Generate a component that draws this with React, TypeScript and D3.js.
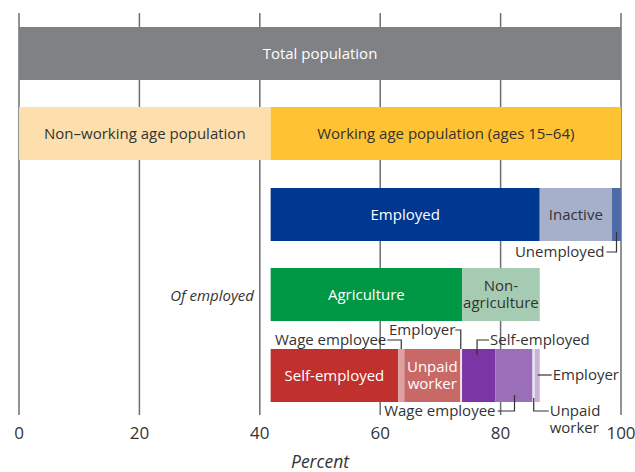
import React from "react";
import * as d3 from "d3";

type Seg = { key: string; label: string; value: number; color: string; text: string };

const totalRow: Seg[] = [
  { key: "total", label: "Total population", value: 100, color: "#808184", text: "#ffffff" },
];
const ageRow: Seg[] = [
  { key: "nonwork", label: "Non\u2013working age population", value: 41.8, color: "#fddfae", text: "#333333" },
  { key: "work", label: "Working age population (ages 15\u201364)", value: 58.2, color: "#fec232", text: "#333333" },
];
const statusRow: Seg[] = [
  { key: "employed", label: "Employed", value: 44.7, color: "#003790", text: "#ffffff" },
  { key: "inactive", label: "Inactive", value: 12.0, color: "#a7b0cb", text: "#333333" },
  { key: "unemployed", label: "", value: 1.5, color: "#4f6aa6", text: "#ffffff" },
];
const sectorRow: Seg[] = [
  { key: "agri", label: "Agriculture", value: 31.8, color: "#009845", text: "#ffffff" },
  { key: "nonagri", label: "Non-\nagriculture", value: 12.9, color: "#a5ccb2", text: "#333333" },
];
const typeRow: Seg[] = [
  { key: "a_self", label: "Self-employed", value: 21.2, color: "#c0302d", text: "#ffffff" },
  { key: "a_wage", label: "", value: 1.0, color: "#dea1a0", text: "#ffffff" },
  { key: "a_unpaid", label: "Unpaid\nworker", value: 9.3, color: "#c86867", text: "#ffffff" },
  { key: "a_emp", label: "", value: 0.3, color: "#f3dede", text: "#ffffff" },
  { key: "n_self", label: "", value: 5.5, color: "#7b35a5", text: "#ffffff" },
  { key: "n_wage", label: "", value: 6.2, color: "#9a6eb8", text: "#ffffff" },
  { key: "n_unpaid", label: "", value: 0.4, color: "#e8dff0", text: "#ffffff" },
  { key: "n_emp", label: "", value: 0.8, color: "#c7b3d9", text: "#ffffff" },
];
const rowOffsets = [0, 0, 41.8, 41.8, 41.8];
const xTicks = [0, 20, 40, 60, 80, 100];

// Leader-line annotations: label text per segment key
const annotations = [
  { key: "unemployed", text: ["Unemployed"] },
  { key: "a_wage", text: ["Wage employee"] },
  { key: "a_emp", text: ["Employer"] },
  { key: "n_self", text: ["Self-employed"] },
  { key: "n_wage", text: ["Wage employee"] },
  { key: "n_unpaid", text: ["Unpaid", "worker"] },
  { key: "n_emp", text: ["Employer"] },
];

const W = 635;
const H = 472;
const FONT = "'Open Sans', 'Noto Sans', sans-serif";

export default function App() {
  const x = d3.scaleLinear().domain([0, 100]).range([19, 621]);
  const rows = [totalRow, ageRow, statusRow, sectorRow, typeRow];
  const rowTop = [27, 107, 188, 268, 349];
  const barH = 53;

  const segPos: Record<string, { x0: number; x1: number; top: number; bottom: number }> = {};
  const rects: any[] = [];
  const labels: any[] = [];
  rows.forEach((row, ri) => {
    let acc = rowOffsets[ri];
    row.forEach((s) => {
      const v0 = acc;
      const v1 = acc + s.value;
      acc = v1;
      const x0 = x(v0);
      const x1 = x(v1);
      const top = rowTop[ri];
      segPos[s.key] = { x0, x1, top, bottom: top + barH };
      rects.push(
        <rect key={s.key} x={x0} y={top} width={Math.max(0, x1 - x0)} height={barH} fill={s.color} />
      );
      if (s.label) {
        const lines = s.label.split("\n");
        const cx = (x0 + x1) / 2;
        const cy = top + barH / 2;
        labels.push(
          <text key={"l" + s.key} x={cx} textAnchor="middle" fill={s.text} fontSize={15} fontFamily={FONT}>
            {lines.map((ln, i) => (
              <tspan key={i} x={cx} y={cy + 5 + (i - (lines.length - 1) / 2) * 17}>
                {ln}
              </tspan>
            ))}
          </text>
        );
      }
    });
  });

  const ann = annotations.map((a) => {
    const p = segPos[a.key];
    const mid = (p.x0 + p.x1) / 2;
    const fs = 15;
    const col = "#333333";
    let path = "";
    let tx = 0;
    let ty = 0;
    let anchor: "start" | "end" = "start";
    switch (a.key) {
      case "unemployed":
        path = `M${mid},${p.bottom - 9} V${p.bottom + 11} H${mid - 10}`;
        tx = mid - 12; ty = p.bottom + 16; anchor = "end";
        break;
      case "a_wage":
        path = `M${mid},${p.top} V${p.top - 9} H${mid - 14}`;
        tx = mid - 15; ty = p.top - 4; anchor = "end";
        break;
      case "a_emp":
        path = `M${p.x0 + 0.5},${p.top} V${p.top - 19} H${p.x0 - 5}`;
        tx = p.x0 - 5; ty = p.top - 14; anchor = "end";
        break;
      case "n_self":
        path = `M${p.x0 + 15},${p.top + 6} V${p.top - 9} H${p.x0 + 27}`;
        tx = p.x0 + 28; ty = p.top - 4; anchor = "start";
        break;
      case "n_wage":
        path = `M${p.x1 - 18},${p.bottom - 7} V${p.bottom + 9} H${p.x1 - 35}`;
        tx = p.x1 - 37; ty = p.bottom + 14; anchor = "end";
        break;
      case "n_unpaid":
        path = `M${mid},${p.bottom - 4} V${p.bottom + 9} H${mid + 15}`;
        tx = mid + 16; ty = p.bottom + 14; anchor = "start";
        break;
      case "n_emp":
        path = `M${p.x1 - 2},${p.top + 26} H${p.x1 + 12}`;
        tx = p.x1 + 13; ty = p.top + 31; anchor = "start";
        break;
    }
    return (
      <g key={"a" + a.key}>
        <path d={path} fill="none" stroke={col} strokeWidth={1.2} />
        <text x={tx} y={ty} textAnchor={anchor} fill={col} fontSize={fs} fontFamily={FONT}>
          {a.text.map((t, i) => (
            <tspan key={i} x={tx} dy={i === 0 ? 0 : 17}>
              {t}
            </tspan>
          ))}
        </text>
      </g>
    );
  });

  return (
    <svg width={W} height={H} style={{ position: "absolute", left: 0, top: 0, background: "#fff" }}>
      {xTicks.map((t) => (
        <line key={"g" + t} x1={x(t)} x2={x(t)} y1={13} y2={415} stroke="#6d6e71" strokeWidth={1.5} />
      ))}
      {rects}
      {labels}
      {ann}
      <text x={254} y={301} textAnchor="end" fontSize={15} fontStyle="italic" fill="#333" fontFamily={FONT}>
        Of employed
      </text>
      {xTicks.map((t) => (
        <text key={"t" + t} x={x(t)} y={439} textAnchor="middle" fontSize={17} fill="#333" fontFamily={FONT}>
          {t}
        </text>
      ))}
      <text x={320} y={468} textAnchor="middle" fontSize={17.5} fontStyle="italic" fill="#333" fontFamily={FONT}>
        Percent
      </text>
    </svg>
  );
}
